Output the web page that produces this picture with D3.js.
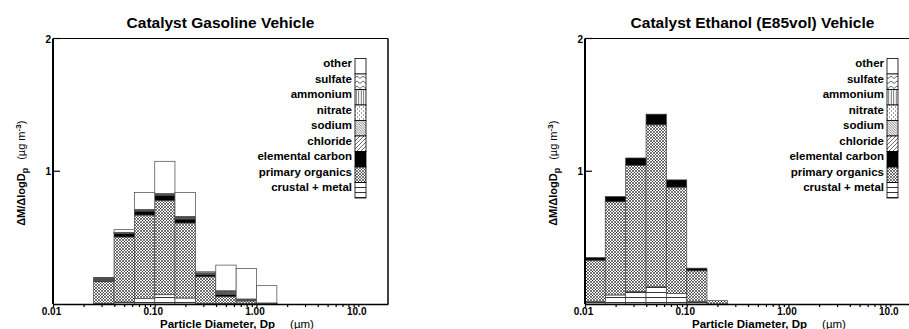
<!DOCTYPE html>
<html>
<head>
<meta charset="utf-8">
<script src="https://cdn.jsdelivr.net/npm/d3@7"></script>
<style>
  body { margin: 0; background: #fff; }
  text { font-family: "Liberation Sans", Arial, sans-serif; font-weight: bold; fill: #000; }
</style>
</head>
<body>
<div id="chart"></div>
<script>
// species, bottom of the stack first
var species = ["crustal + metal", "primary organics", "elemental carbon", "chloride",
  "sodium", "nitrate", "ammonium", "sulfate", "other"];

// bin edges (um)
var gasEdges = [0.0251, 0.0398, 0.0631, 0.1, 0.158, 0.251, 0.398, 0.631, 1.0, 1.585];
var ethEdges = [0.01, 0.0158, 0.0251, 0.0398, 0.0631, 0.1, 0.158, 0.251];

// gasoline vehicle, dM/dlogDp per bin
var gasCrustal  = [0.005, 0.015, 0.04, 0.07, 0.045, 0.005, 0.005, 0.003, 0.003];
var gasOrganics = [0.165, 0.49, 0.63, 0.71, 0.565, 0.2, 0.05, 0.02, 0.0];
var gasEC       = [0.005, 0.025, 0.03, 0.04, 0.03, 0.018, 0.018, 0.005, 0.0];
var gasChloride = [0.003, 0.002, 0.002, 0.002, 0.003, 0.002, 0.004, 0.002, 0.001];
var gasSodium   = [0.004, 0.002, 0.003, 0.003, 0.005, 0.003, 0.007, 0.002, 0.001];
var gasNitrate  = [0.005, 0.002, 0.003, 0.003, 0.005, 0.003, 0.007, 0.002, 0.001];
var gasAmmonium = [0.003, 0.002, 0.002, 0.002, 0.003, 0.002, 0.004, 0.002, 0.001];
var gasSulfate  = [0.005, 0.002, 0.002, 0.002, 0.004, 0.002, 0.005, 0.002, 0.001];
var gasOther    = [0.005, 0.02, 0.128, 0.243, 0.18, 0.008, 0.193, 0.23, 0.13];

// ethanol (E85) vehicle
var ethCrustal  = [0.02, 0.068, 0.093, 0.13, 0.08, 0.02, 0.0];
var ethOrganics = [0.31, 0.702, 0.952, 1.22, 0.8, 0.23, 0.025];
var ethEC       = [0.02, 0.04, 0.055, 0.08, 0.055, 0.02, 0.0];
var ethChloride = [0, 0, 0, 0, 0, 0, 0];
var ethSodium   = [0, 0, 0, 0, 0, 0, 0];
var ethNitrate  = [0, 0, 0, 0, 0, 0, 0];
var ethAmmonium = [0, 0, 0, 0, 0, 0, 0];
var ethSulfate  = [0, 0, 0, 0, 0, 0, 0];
var ethOther    = [0, 0, 0, 0, 0, 0, 0];

var majorTicks = [0.01, 0.1, 1, 10];
var majorLabels = ["0.01", "0.10", "1.00", "10.0"];
var yTicks = [1, 2];

var svgWidth = 909;
var svgHeight = 329;

var svg = d3.select("#chart")
  .append("svg")
  .attr("width", svgWidth)
  .attr("height", svgHeight);

// fill patterns, one per species
var defs = svg.append("defs");
var patterns = {
  "crustal + metal": { w: 4, h: 5, d: "M0,2.5 H4", sw: 0.8 },
  "primary organics": { w: 3, h: 3, d: "M0,0 L3,3 M3,0 L0,3 M-1,2 L1,4 M2,-1 L4,1", sw: 0.55 },
  "chloride": { w: 4, h: 4, d: "M0,4 L4,0 M-1,1 L1,-1 M3,5 L5,3", sw: 0.6 },
  "sodium": { w: 2.5, h: 2.5, d: "M0,0 L2.5,2.5 M-1,1.5 L1,3.5 M1.5,-1 L3.5,1", sw: 0.5 },
  "nitrate": { w: 4, h: 4, d: "M1,1 h0.8 M3,3 h0.8", sw: 0.9 },
  "ammonium": { w: 2.5, h: 4, d: "M1.2,0 V4", sw: 0.6 },
  "sulfate": { w: 6, h: 5, d: "M0,3.5 L3,1 L6,3.5", sw: 0.6 }
};
Object.keys(patterns).forEach(function(k, i) {
  var p = patterns[k];
  var pat = defs.append("pattern")
    .attr("id", "pat" + i)
    .attr("patternUnits", "userSpaceOnUse")
    .attr("width", p.w)
    .attr("height", p.h);
  pat.append("rect").attr("width", p.w).attr("height", p.h).attr("fill", "#fff");
  pat.append("path").attr("d", p.d).attr("stroke", "#000")
    .attr("stroke-width", p.sw).attr("fill", "none");
  p.id = "url(#pat" + i + ")";
});

function fillFor(key) {
  if (key === "elemental carbon") return "#000";
  if (key === "other") return "#fff";
  return patterns[key].id;
}

function drawPanel(opts) {
  var left = opts.left, right = opts.left + 335;
  var top = 38.5, bottom = 304;

  var x = d3.scaleLog().domain([0.01, 19.6]).range([left, right]);
  var y = d3.scaleLinear().domain([0, 2]).range([bottom, top]);

  var rows = opts.edges.slice(0, -1).map(function(e, i) {
    var r = { lo: e, hi: opts.edges[i + 1] };
    species.forEach(function(s, j) { r[s] = opts.values[j][i]; });
    return r;
  });

  var stacked = d3.stack().keys(species)(rows);

  var g = svg.append("g");
  stacked.forEach(function(layer) {
    g.selectAll(null)
      .data(layer.filter(function(d) { return d[1] - d[0] > 0; }))
      .enter()
      .append("rect")
      .attr("x", function(d) { return x(d.data.lo); })
      .attr("width", function(d) { return x(d.data.hi) - x(d.data.lo); })
      .attr("y", function(d) { return y(d[1]); })
      .attr("height", function(d) { return y(d[0]) - y(d[1]); })
      .attr("fill", fillFor(layer.key))
      .attr("stroke", "#444")
      .attr("stroke-width", 0.7);
  });

  // x axis: major + minor ticks
  var allTicks = [];
  [0.01, 0.1, 1, 10].forEach(function(dec) {
    for (var m = 1; m <= 9; m++) {
      if (dec * m <= 19.6) allTicks.push(+(dec * m).toPrecision(3));
    }
  });
  var xAxis = d3.axisBottom(x)
    .tickValues(allTicks)
    .tickSize(3)
    .tickSizeOuter(0)
    .tickFormat(function(d) {
      var i = majorTicks.indexOf(d);
      return i >= 0 ? majorLabels[i] : "";
    });
  var ax = svg.append("g")
    .attr("transform", `translate(0, ${bottom})`)
    .call(xAxis);
  ax.select(".domain").attr("stroke-width", 1.6);
  ax.selectAll(".tick line").attr("stroke-width", 1.2);
  ax.selectAll(".tick text")
    .attr("y", 5)
    .attr("dy", "0.6em")
    .attr("dx", -2)
    .style("font-size", "10px")
    .style("font-family", "'Liberation Sans', Arial, sans-serif")
    .style("font-weight", "bold");

  // frame
  svg.append("line").attr("x1", left).attr("x2", left).attr("y1", top).attr("y2", bottom)
    .attr("stroke", "#000").attr("stroke-width", 2);
  svg.append("line").attr("x1", left).attr("x2", right).attr("y1", top).attr("y2", top)
    .attr("stroke", "#000").attr("stroke-width", 1);
  svg.append("line").attr("x1", right).attr("x2", right).attr("y1", top).attr("y2", bottom)
    .attr("stroke", "#000").attr("stroke-width", 1.5);

  // y ticks
  yTicks.forEach(function(t) {
    svg.append("line").attr("x1", left).attr("x2", left + 7)
      .attr("y1", y(t)).attr("y2", y(t)).attr("stroke", "#000").attr("stroke-width", 1.2);
    svg.append("text").attr("x", left - 2).attr("y", y(t) + 4)
      .attr("text-anchor", "end").style("font-size", "10px").text(t);
  });

  // y label
  var yl = svg.append("text")
    .attr("transform", `translate(${left - 28}, ${(top + bottom) / 2 + 2}) rotate(-90)`)
    .attr("text-anchor", "middle")
    .style("font-size", "11px");
  yl.append("tspan").text("\u0394M/\u0394logD");
  yl.append("tspan").attr("dy", 3).style("font-size", "9px").text("p");
  yl.append("tspan").attr("dy", -3).attr("dx", 8).style("font-weight", "normal").text("(\u00b5g m");
  yl.append("tspan").attr("dy", -4).style("font-size", "8px").text("-3");
  yl.append("tspan").attr("dy", 4).style("font-weight", "normal").text(")");

  // x label
  var xl = svg.append("text")
    .attr("x", left + 107).attr("y", 328)
    .style("font-size", "11.5px");
  xl.append("tspan").text("Particle Diameter, Dp");
  xl.append("tspan").attr("dx", 15).style("font-weight", "normal").text("(\u00b5m)");

  // title
  svg.append("text")
    .attr("x", (left + right) / 2).attr("y", 27.5)
    .attr("text-anchor", "middle")
    .style("font-size", "15.5px")
    .text(opts.title);

  // legend
  var boxX = right - 33, boxW = 11, rowH = 15.5, legTop = 58.5;
  var legendKeys = species.slice().reverse();
  legendKeys.forEach(function(k, i) {
    svg.append("rect")
      .attr("x", boxX).attr("y", legTop + i * rowH)
      .attr("width", boxW).attr("height", rowH)
      .attr("fill", fillFor(k))
      .attr("stroke", "#000").attr("stroke-width", 0.8);
    svg.append("text")
      .attr("x", boxX - 3).attr("y", legTop + i * rowH + 8.5)
      .attr("text-anchor", "end")
      .style("font-size", "11.5px")
      .text(k);
  });
}

drawPanel({
  left: 53,
  title: "Catalyst Gasoline Vehicle",
  edges: gasEdges,
  values: [gasCrustal, gasOrganics, gasEC, gasChloride, gasSodium, gasNitrate, gasAmmonium, gasSulfate, gasOther]
});

drawPanel({
  left: 585,
  title: "Catalyst Ethanol (E85vol) Vehicle",
  edges: ethEdges,
  values: [ethCrustal, ethOrganics, ethEC, ethChloride, ethSodium, ethNitrate, ethAmmonium, ethSulfate, ethOther]
});
</script>
</body>
</html>
